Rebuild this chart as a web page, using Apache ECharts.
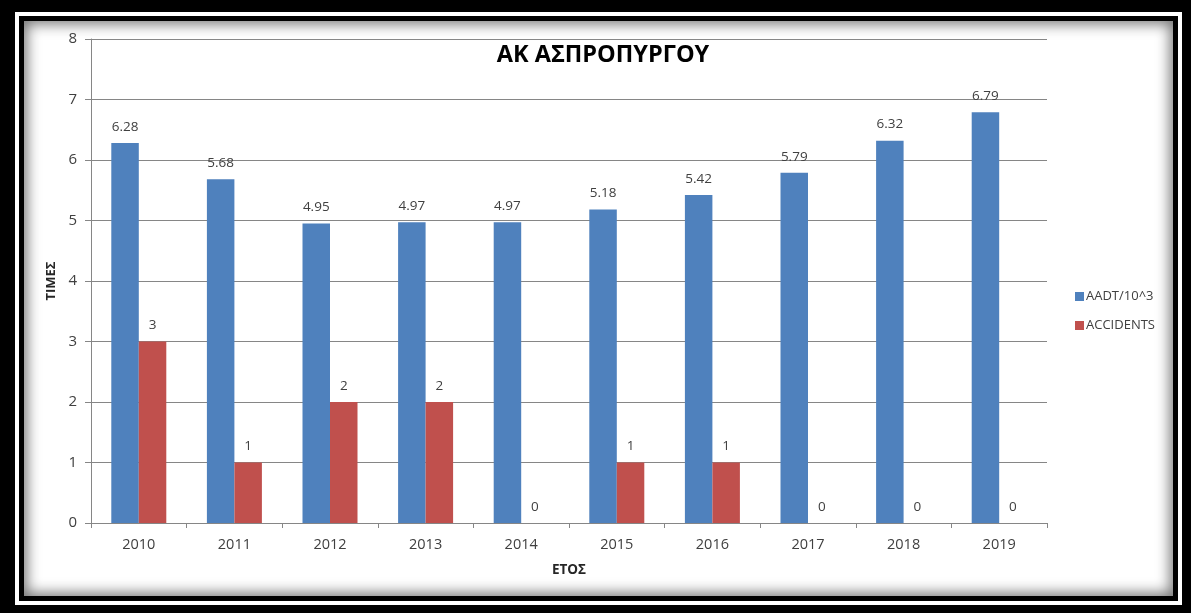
<!DOCTYPE html>
<html>
<head>
<meta charset="utf-8">
<script src="https://cdn.jsdelivr.net/npm/echarts@6/dist/echarts.min.js"></script>
<style>
  html, body { margin: 0; padding: 0; width: 1191px; height: 613px; background: #000; overflow: hidden; }
  .ring { position: absolute; left: 15px; top: 12px; width: 1167px; height: 593px; background: #fff; }
  .inner { position: absolute; left: 19px; top: 16px; width: 1159px; height: 585px; background: #000; }
  .panel { position: absolute; left: 24px; top: 21px; width: 1149px; height: 575px; background: #fff;
           box-shadow: inset 0 0 14px 3px rgba(0,0,0,0.55); }
  #chart { position: absolute; left: 0; top: 0; width: 1191px; height: 613px; }
</style>
</head>
<body>
<div class="ring"></div>
<div class="inner"></div>
<div class="panel"></div>
<div id="chart"></div>
<script>
// Yearly traffic volume (thousands) and accident counts
const years = ['2010', '2011', '2012', '2013', '2014', '2015', '2016', '2017', '2018', '2019'];
const aadt = [6.28, 5.68, 4.95, 4.97, 4.97, 5.18, 5.42, 5.79, 6.32, 6.79];
const accidents = [3, 1, 2, 2, 0, 1, 1, 0, 0, 0];
const yTicks = [0, 1, 2, 3, 4, 5, 6, 7, 8];

const FONT = '"Open Sans", "DejaVu Sans", sans-serif';
const chart = echarts.init(document.getElementById('chart'), null, { renderer: 'canvas' });

const labelStyle = {
  show: true,
  position: 'top',
  distance: 9,
  color: '#404040',
  fontFamily: FONT,
  fontSize: 13.5
};

chart.setOption({
  animation: false,
  backgroundColor: 'transparent',
  title: {
    text: 'ΑΚ ΑΣΠΡΟΠΥΡΓΟΥ',
    left: 598,
    textAlign: 'center',
    top: 38,
    textStyle: { fontFamily: FONT, fontWeight: 'bold', fontSize: 23.5, color: '#000' }
  },
  legend: {
    orient: 'vertical',
    left: 1070,
    top: 285,
    itemWidth: 9,
    itemHeight: 9,
    itemGap: 16,
    icon: 'rect',
    textStyle: { fontFamily: FONT, fontSize: 13, color: '#404040', padding: [0, 0, 0, -3] },
    data: ['AADT/10^3', 'ACCIDENTS']
  },
  grid: { left: 91, top: 39, width: 956, height: 484, containLabel: false },
  xAxis: {
    type: 'category',
    data: years,
    name: 'ΕΤΟΣ',
    nameLocation: 'middle',
    nameGap: 40,
    nameTextStyle: { fontFamily: FONT, fontWeight: 'bold', fontSize: 13.5, color: '#262626' },
    axisLine: { lineStyle: { color: '#868686', width: 1 } },
    axisTick: { show: true, length: 5, lineStyle: { color: '#868686' } },
    axisLabel: { fontFamily: FONT, fontSize: 14.5, color: '#404040', margin: 14 }
  },
  yAxis: {
    type: 'value',
    min: yTicks[0],
    max: yTicks[yTicks.length - 1],
    interval: 1,
    name: 'ΤΙΜΕΣ',
    nameLocation: 'middle',
    nameRotate: 90,
    nameGap: 33,
    nameTextStyle: { fontFamily: FONT, fontWeight: 'bold', fontSize: 13, color: '#262626' },
    axisLine: { show: true, lineStyle: { color: '#868686', width: 1 } },
    axisTick: { show: true, length: 6, lineStyle: { color: '#868686' } },
    axisLabel: { fontFamily: FONT, fontSize: 15, color: '#404040', margin: 14 },
    splitLine: { lineStyle: { color: '#868686', width: 1 } }
  },
  series: [
    {
      name: 'AADT/10^3',
      type: 'bar',
      data: aadt,
      barWidth: 27.5,
      barGap: '0%',
      itemStyle: { color: '#4F81BD' },
      label: labelStyle
    },
    {
      name: 'ACCIDENTS',
      type: 'bar',
      data: accidents,
      barWidth: 27.5,
      itemStyle: { color: '#C0504D' },
      label: labelStyle
    }
  ]
});
</script>
</body>
</html>
